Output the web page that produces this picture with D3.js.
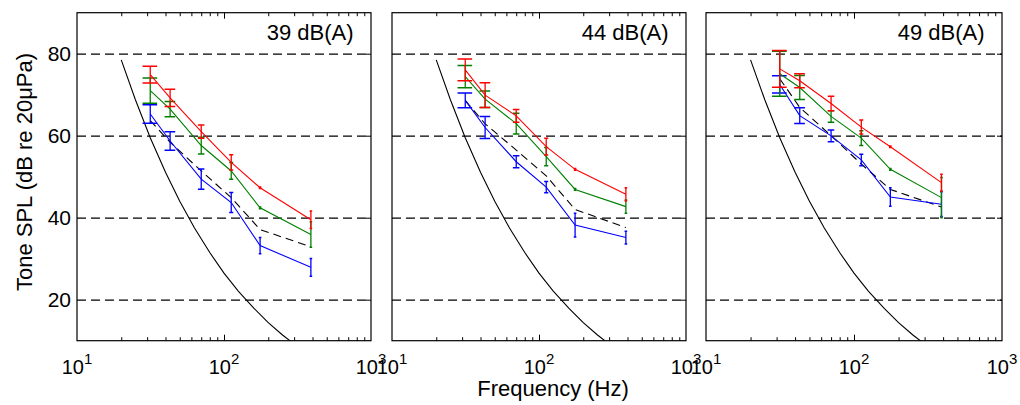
<!DOCTYPE html>
<html><head><meta charset="utf-8">
<script src="https://cdn.jsdelivr.net/npm/d3@7"></script>
<style>
body{margin:0;background:#fff}
text{font-family:"Liberation Sans",Arial,Helvetica,sans-serif;fill:#000}
</style>
</head><body>
<svg id="c" width="1020" height="405"></svg>
<script>
// ---------- DATA ----------
const freqs = [31.5, 43, 70, 112, 176, 390];
const panelLabels = ["39 dB(A)", "44 dB(A)", "49 dB(A)"];

// 39 dB(A)
const red39   = [74.9, 69.2, 61.0, 53.5, 47.3, 39.5];
const redErr39 = [2.05, 2.1, 1.6, 1.85, 0.2, 2.15];
const green39 = [71.0, 66.5, 57.6, 51.4, 42.4, 35.9];
const greenErr39 = [3.1, 1.85, 2.05, 2.05, 0.2, 3.1];
const blue39  = [65.3, 58.7, 49.4, 43.7, 33.2, 27.9];
const blueErr39 = [2.25, 2.25, 2.45, 2.45, 2.0, 2.15];
const black39 = [63.7, 58.4, 51.4, 44.9, 37.1, 32.9];

// 44 dB(A)
const red44   = [76.05, 69.9, 64.85, 57.35, 51.8, 45.7];
const redErr44 = [2.65, 3.0, 1.55, 2.05, 0.2, 1.6];
const green44 = [74.4, 68.9, 62.95, 54.9, 46.9, 42.7];
const greenErr44 = [2.7, 2.0, 2.55, 2.2, 0.2, 1.6];
const blue44  = [68.6, 62.0, 53.65, 47.45, 38.2, 35.15];
const blueErr44 = [1.8, 2.7, 1.45, 1.35, 2.9, 1.55];
const black44 = [68.6, 62.9, 56.5, 50.2, 42.0, 37.6];

// 49 dB(A)
const red49   = [76.3, 73.4, 67.85, 62.1, 57.3, 48.55];
const redErr49 = [4.5, 1.7, 1.75, 1.7, 0.2, 2.05];
const green49 = [75.1, 71.75, 64.7, 59.4, 51.8, 44.9];
const greenErr49 = [5.5, 2.95, 1.4, 1.8, 0.2, 4.9];
const blue49  = [72.5, 64.9, 59.95, 54.1, 45.05, 43.3];
const blueErr49 = [2.1, 1.9, 1.45, 1.4, 2.25, 3.0];
const black49 = [73.9, 66.9, 60.0, 53.1, 46.9, 42.6];

// hearing threshold curve
const thrFreq  = [20, 25, 31.5, 40, 50, 63, 80, 100, 125, 160, 200, 250, 315];
const thrLevel = [78.5, 68.7, 59.5, 51.1, 44.0, 37.5, 31.5, 26.5, 22.1, 17.9, 14.4, 11.4, 8.6];

const yTicks = [20, 40, 60, 80];
const xMajor = [10, 100, 1000];
const xMajorExp = ["1", "2", "3"];
const xMinor = [20,30,40,50,60,70,80,90,200,300,400,500,600,700,800,900];

const panels = [
  {label: panelLabels[0], red: red39, redErr: redErr39, green: green39, greenErr: greenErr39, blue: blue39, blueErr: blueErr39, black: black39},
  {label: panelLabels[1], red: red44, redErr: redErr44, green: green44, greenErr: greenErr44, blue: blue44, blueErr: blueErr44, black: black44},
  {label: panelLabels[2], red: red49, redErr: redErr49, green: green49, greenErr: greenErr49, blue: blue49, blueErr: blueErr49, black: black49}
];

// ---------- LAYOUT ----------
const lefts = [77, 392, 706];
const widths = [294, 294, 296];
const topY = 12.7, bottomY = 340.7;
const svg = d3.select("#c");
const y = d3.scaleLinear().domain([10, 90]).range([bottomY, topY]);
const tee = (d3.max(freqs) - d3.min(freqs)) / 100;

panels.forEach((p, i) => {
  const L = lefts[i], W = widths[i];
  const x = d3.scaleLog().domain([10, 1000]).range([L, L + W]);
  const g = svg.append("g");
  const clipId = "clip" + i;
  svg.append("clipPath").attr("id", clipId).append("rect")
    .attr("x", L).attr("y", topY).attr("width", W).attr("height", bottomY - topY);

  // dashed gridlines via axis
  const grid = g.append("g").attr("transform", `translate(${L},0)`)
    .call(d3.axisLeft(y).tickValues(yTicks).tickSize(-W).tickFormat(""));
  grid.select(".domain").remove();
  grid.selectAll("line").attr("stroke", "#000").attr("stroke-width", 1.2).attr("stroke-dasharray", "9,5");

  // right side y ticks
  const gr = g.append("g").attr("transform", `translate(${L + W},0)`)
    .call(d3.axisRight(y).tickValues(yTicks).tickSize(-5).tickFormat(""));
  gr.select(".domain").remove();
  gr.selectAll("line").attr("stroke", "#000");

  // bottom / top minor ticks
  const gb = g.append("g").attr("transform", `translate(0,${bottomY})`)
    .call(d3.axisBottom(x).tickValues(xMinor).tickSize(-3.5).tickFormat(""));
  gb.select(".domain").remove();
  const gb2 = g.append("g").attr("transform", `translate(0,${bottomY})`)
    .call(d3.axisBottom(x).tickValues([100]).tickSize(-6).tickFormat(""));
  gb2.select(".domain").remove();
  const gt = g.append("g").attr("transform", `translate(0,${topY})`)
    .call(d3.axisTop(x).tickValues(xMinor).tickSize(-3.5).tickFormat(""));
  gt.select(".domain").remove();
  const gt2 = g.append("g").attr("transform", `translate(0,${topY})`)
    .call(d3.axisTop(x).tickValues([100]).tickSize(-6).tickFormat(""));
  gt2.select(".domain").remove();

  // x tick labels with superscript
  xMajor.forEach((v, k) => {
    const t = g.append("text").attr("x", x(v)).attr("y", 374)
      .attr("text-anchor", "middle").attr("font-size", 20);
    t.append("tspan").text("10");
    t.append("tspan").attr("dy", -10).attr("font-size", 15).text(xMajorExp[k]);
  });

  // y tick labels on first panel
  if (i === 0) {
    yTicks.forEach(v => {
      g.append("text").attr("x", L - 6).attr("y", y(v)).attr("dy", "0.35em")
        .attr("text-anchor", "end").attr("font-size", 21).text(v);
    });
  }

  const plot = g.append("g").attr("clip-path", `url(#${clipId})`);

  // threshold curve
  const thr = thrFreq.map((f, k) => [f, thrLevel[k]]);
  plot.append("path").datum(thr)
    .attr("d", d3.line().x(d => x(d[0])).y(d => y(d[1])))
    .attr("fill", "none").attr("stroke", "#000").attr("stroke-width", 1.1);

  const line = d3.line().x(d => x(d[0])).y(d => y(d[1]));

  // black dashed mean line
  plot.append("path").datum(freqs.map((f, k) => [f, p.black[k]]))
    .attr("d", line).attr("fill", "none").attr("stroke", "#000")
    .attr("stroke-width", 1.1).attr("stroke-dasharray", "8,5");

  const series = [
    {vals: p.blue, err: p.blueErr, color: "#0000ff"},
    {vals: p.green, err: p.greenErr, color: "#008000"},
    {vals: p.red, err: p.redErr, color: "#ff0000"}
  ];
  series.forEach(s => {
    const sg = plot.append("g");
    sg.append("path").datum(freqs.map((f, k) => [f, s.vals[k]]))
      .attr("d", line).attr("fill", "none").attr("stroke", s.color).attr("stroke-width", 1.1);
    freqs.forEach((f, k) => {
      const lo = s.vals[k] - s.err[k], hi = s.vals[k] + s.err[k];
      const xc = x(f);
      let hw1 = xc - x(f - tee), hw2 = x(f + tee) - xc;
      hw1 = Math.max(hw1, 1.3); hw2 = Math.max(hw2, 1.3);
      sg.append("line").attr("x1", xc).attr("x2", xc).attr("y1", y(lo)).attr("y2", y(hi))
        .attr("stroke", s.color).attr("stroke-width", 1.3);
      [lo, hi].forEach(v => {
        sg.append("line").attr("x1", xc - hw1).attr("x2", xc + hw2).attr("y1", y(v)).attr("y2", y(v))
          .attr("stroke", s.color).attr("stroke-width", 1.5);
      });
    });
  });

  // frame
  g.append("rect").attr("x", L).attr("y", topY).attr("width", W).attr("height", bottomY - topY)
    .attr("fill", "none").attr("stroke", "#000").attr("stroke-width", 1.2);

  // panel label
  g.append("text").attr("x", L + W - 17.5).attr("y", 40).attr("text-anchor", "end")
    .attr("font-size", 22).text(p.label);
});

// axis titles
svg.append("text").attr("x", 553).attr("y", 396).attr("text-anchor", "middle")
  .attr("font-size", 22).text("Frequency (Hz)");
svg.append("text").attr("transform", "translate(31.5,172) rotate(-90)")
  .attr("text-anchor", "middle").attr("font-size", 22).text("Tone SPL (dB re 20μPa)");
</script>
</body></html>
